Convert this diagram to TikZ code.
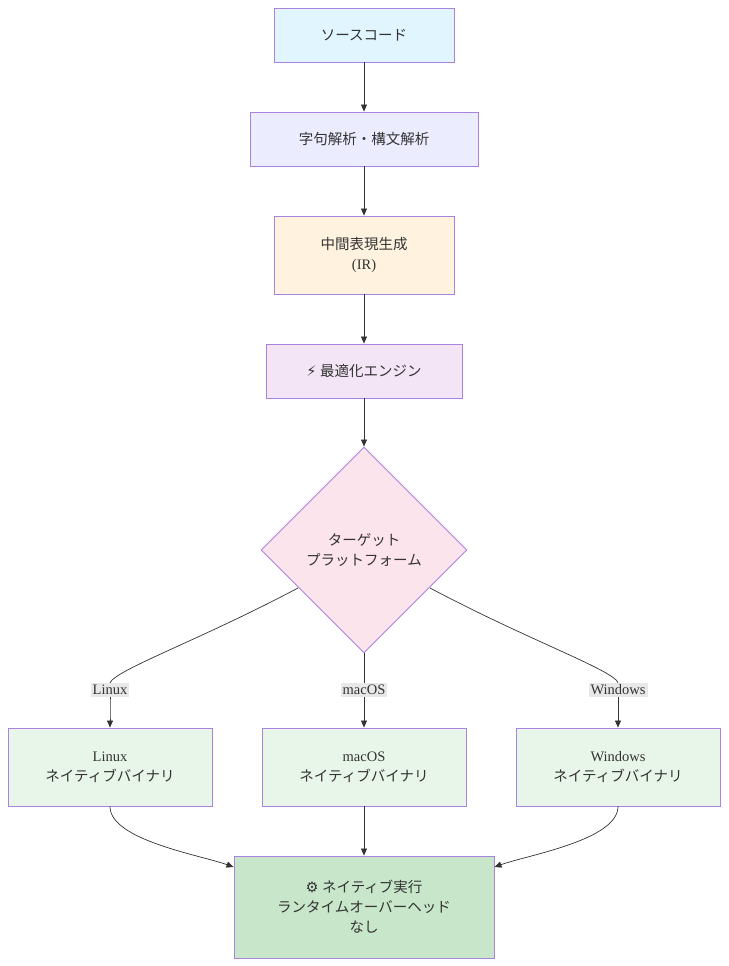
\documentclass[tikz,border=0pt]{standalone}
\usepackage{fontspec}
\setmainfont{Liberation Serif}
\newfontfamily\cjk{Noto Sans CJK JP}
\newfontfamily\emo{DejaVu Sans}
\newcommand{\jp}[1]{{\cjk #1}}
\newcommand{\emj}[1]{{\emo #1}}
\usetikzlibrary{shapes.geometric,arrows.meta}
\definecolor{bd}{HTML}{A983E0}
\definecolor{ln}{HTML}{333333}
\begin{document}
\begin{tikzpicture}[x=1pt,y=-1pt,font=\fontsize{14.5}{20}\selectfont,
 box/.style={draw=bd,line width=0.9pt,align=center,text=ln},
 arr/.style={draw=ln,line width=0.7pt,-{Triangle[length=7pt,width=6pt]}},
 lab/.style={fill=black!9,inner sep=2pt,text=ln}]
\useasboundingbox (0,0) rectangle (728,966);
\node[box,fill={rgb,255:red,225;green,245;blue,254},minimum width=180pt,minimum height=54pt] (src) at (364,35) {\jp{ソースコード}};
\node[box,fill={rgb,255:red,236;green,236;blue,255},minimum width=228pt,minimum height=54pt] (lex) at (364,139) {\jp{字句解析・構文解析}};
\node[box,fill={rgb,255:red,255;green,243;blue,224},minimum width=180pt,minimum height=78pt] (ir) at (364,255) {\jp{中間表現生成}\\(IR)};
\node[box,fill={rgb,255:red,243;green,229;blue,245},minimum width=196pt,minimum height=54pt] (opt) at (364,371) {\emj{⚡} \jp{最適化エンジン}};
\node[box,diamond,fill={rgb,255:red,252;green,228;blue,236},minimum width=206pt,minimum height=206pt,inner sep=0pt] (tgt) at (364,550) {\jp{ターゲット}\\\jp{プラットフォーム}};
\node[box,fill={rgb,255:red,232;green,245;blue,233},minimum width=204pt,minimum height=78pt] (lin) at (110,767) {Linux\\\jp{ネイティブバイナリ}};
\node[box,fill={rgb,255:red,232;green,245;blue,233},minimum width=204pt,minimum height=78pt] (mac) at (364,767) {macOS\\\jp{ネイティブバイナリ}};
\node[box,fill={rgb,255:red,232;green,245;blue,233},minimum width=204pt,minimum height=78pt] (win) at (618,767) {Windows\\\jp{ネイティブバイナリ}};
\node[box,fill={rgb,255:red,200;green,230;blue,201},minimum width=260pt,minimum height=102pt] (fin) at (364,907) {\emj{⚙} \jp{ネイティブ実行}\\\jp{ランタイムオーバーヘッド}\\\jp{なし}};
\draw[arr] (src) -- (lex);
\draw[arr] (lex) -- (ir);
\draw[arr] (ir) -- (opt);
\draw[arr] (opt) -- (tgt);
\node[lab] (ll) at (110,690) {Linux};
\node[lab] (lm) at (364,690) {macOS};
\node[lab] (lw) at (618,690) {Windows};
\draw[ln,line width=0.7pt] (298,588) .. controls (200,640) and (115,670) .. (ll.north);
\draw[arr] (ll.south) .. controls (110,710) .. (lin.north);
\draw[ln,line width=0.7pt] (tgt.south) -- (lm.north);
\draw[arr] (lm.south) -- (mac.north);
\draw[ln,line width=0.7pt] (430,588) .. controls (528,640) and (613,670) .. (lw.north);
\draw[arr] (lw.south) .. controls (618,710) .. (win.north);
\draw[arr] (lin.south) .. controls (110,840) and (200,855) .. (fin.west|-0,867);
\draw[arr] (mac) -- (fin);
\draw[arr] (win.south) .. controls (618,840) and (528,855) .. (fin.east|-0,867);
\end{tikzpicture}
\end{document}
